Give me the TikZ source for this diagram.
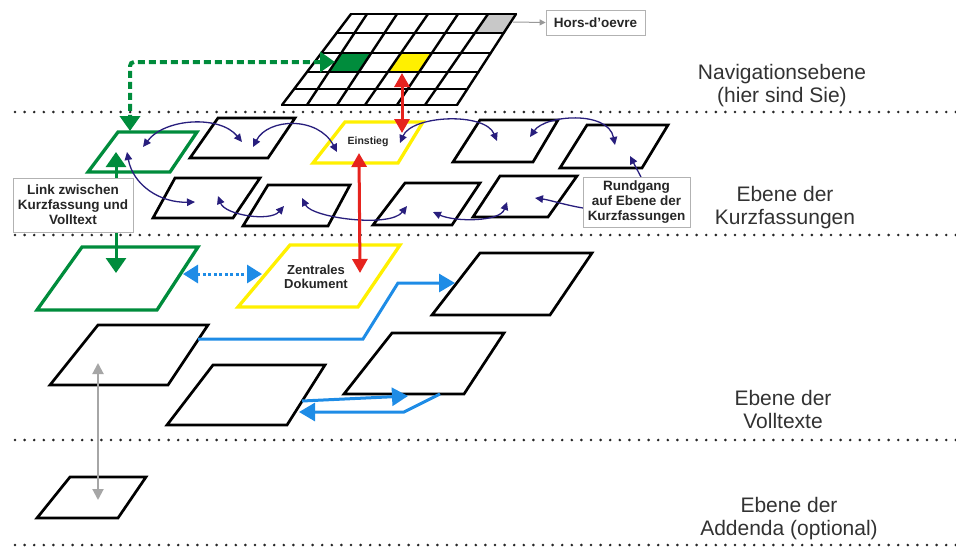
\documentclass[tikz,border=0pt]{standalone}
\usepackage{fontspec}
\setmainfont{Liberation Sans}
\usetikzlibrary{arrows.meta}

\definecolor{lgreen}{RGB}{0,140,60}
\definecolor{lyellow}{RGB}{255,240,0}
\definecolor{lred}{RGB}{230,35,30}
\definecolor{lblue}{RGB}{30,140,230}
\definecolor{lnavy}{RGB}{40,30,125}
\definecolor{lgraycell}{RGB}{200,200,200}
\definecolor{ltext}{RGB}{50,50,50}

\begin{document}
\begin{tikzpicture}[x=1pt,y=-1pt,
  sheet/.style={draw=black,line width=2.7pt,fill=white},
  gsheet/.style={draw=lgreen,line width=3.3pt,fill=white},
  ysheet/.style={draw=lyellow,line width=3.3pt,fill=white},
  gridline/.style={draw=black,line width=2.4pt,line cap=round},
  sep/.style={draw=black!85,line width=2.9pt,dash pattern=on 0pt off 9.6pt,line cap=round},
  layerlabel/.style={font=\fontsize{21}{23}\selectfont,text=ltext,align=center,inner sep=0pt},
  note/.style={draw=black!30,line width=0.8pt,fill=white,font=\bfseries\fontsize{13.5}{15}\selectfont,text=black!85,align=center,inner sep=0pt},
  sheetlabel/.style={text=black!85,align=center,inner sep=0pt},
  greenlink/.style={draw=lgreen,line width=3pt,arrows={Triangle[length=15pt,width=20pt]-Triangle[length=15pt,width=20pt]}},
  greendash/.style={greenlink,line width=4pt,dash pattern=on 7pt off 4pt,rounded corners=4pt},
  redlink/.style={draw=lred,line width=3pt,arrows={Triangle[length=14pt,width=15pt]-Triangle[length=14pt,width=15pt]}},
  bluelink/.style={draw=lblue,line width=3pt,arrows={-Triangle[length=16pt,width=18pt]}},
  bluedots/.style={draw=lblue,line width=3pt,dash pattern=on 3pt off 2.5pt,arrows={Triangle[length=15pt,width=18pt]-Triangle[length=15pt,width=18pt]}},
  graylink/.style={draw=black!35,line width=2pt,arrows={Triangle[length=11pt,width=11pt]-Triangle[length=11pt,width=11pt]}},
  tour/.style={draw=lnavy,line width=1.3pt,arrows={Triangle[length=8pt,width=7.5pt]-Triangle[length=8pt,width=7.5pt]}},
  tourone/.style={draw=lnavy,line width=1.3pt,arrows={-Triangle[length=8pt,width=7.5pt]}},
  pointer/.style={draw=black!40,line width=1pt,arrows={-Triangle[length=6pt,width=6pt]}},
]
\useasboundingbox (0,0) rectangle (956,547);

% layer separators
\foreach \yy in {112,235,440,545}
  \draw[sep] (15,\yy) -- (956,\yy);

% navigation grid
\fill[white] (351,14) -- (516,14) -- (457,105) -- (282,105) -- cycle;
\fill[lgreen] (341.3,53) -- (371.3,53) -- (358.8,72) -- (328.8,72) -- cycle;
\fill[lyellow] (401,53) -- (431.9,53) -- (419.1,72) -- (387.8,72) -- cycle;
\fill[lgraycell] (488,14) -- (516,14) -- (503.7,33) -- (474.8,33) -- cycle;
\draw[gridline] (351,14) -- (516,14) (336.6,33) -- (503.7,33) (321.4,53) -- (490.7,53)
  (307,72) -- (478.4,72) (294.1,89) -- (467.4,89) (282,105) -- (457,105);
\draw[gridline] (351,14) -- (282,105) (367,14) -- (307,105) (397,14) -- (337,105)
  (428,14) -- (365,105) (458,14) -- (397,105) (488,14) -- (425,105) (516,14) -- (457,105);

% sheets: Kurzfassungen
\draw[gsheet] (118,132) -- (197,132) -- (170,172) -- (88,172) -- cycle;
\draw[sheet] (218,118) -- (295,118) -- (268,158) -- (190,158) -- cycle;
\draw[ysheet] (345,122) -- (423,122) -- (398,163) -- (313,163) -- cycle;
\draw[sheet] (480,120) -- (558,120) -- (533,162) -- (453,162) -- cycle;
\draw[sheet] (587,125) -- (668,125) -- (642,168) -- (560,168) -- cycle;
\draw[sheet] (175,178) -- (260,178) -- (233,218) -- (153,218) -- cycle;
\draw[sheet] (268,185) -- (350,185) -- (328,226) -- (243,226) -- cycle;
\draw[sheet] (405,183) -- (480,183) -- (452,225) -- (373,225) -- cycle;
\draw[sheet] (500,176) -- (577,176) -- (548,217) -- (473,217) -- cycle;

% sheets: Volltexte
\draw[gsheet] (82,247) -- (198,247) -- (157,310) -- (37,310) -- cycle;
\draw[ysheet] (290,245) -- (400,245) -- (358,307) -- (238,307) -- cycle;
\draw[sheet] (480,253) -- (592,253) -- (550,315) -- (432,315) -- cycle;
\draw[sheet] (98,325) -- (208,325) -- (168,385) -- (50,385) -- cycle;
\draw[sheet] (213,365) -- (325,365) -- (287,425) -- (167,425) -- cycle;
\draw[sheet] (392,333) -- (504,333) -- (464,394) -- (344,394) -- cycle;

% sheet: Addenda
\draw[sheet] (70,477) -- (146,477) -- (118,518) -- (37,518) -- cycle;

% connector end points
\coordinate (gcell) at (335,62);
\coordinate (ycell) at (402,73);
\coordinate (grid) at (513,22);
\coordinate (aTop) at (130,131);
\coordinate (aIn) at (116,152);
\coordinate (aL) at (143,147);
\coordinate (aD) at (127,152);
\coordinate (bL) at (242,142);
\coordinate (bR) at (253,147);
\coordinate (eL) at (337,152);
\coordinate (eTop) at (402,133);
\coordinate (eR) at (400,143);
\coordinate (eBot) at (359,153);
\coordinate (b2L) at (497,141);
\coordinate (b2R) at (530,137);
\coordinate (b3) at (615,145);
\coordinate (b3low) at (630,156);
\coordinate (c1L) at (195,202);
\coordinate (c1R) at (218,196);
\coordinate (c2L) at (284,206);
\coordinate (c2R) at (302,198);
\coordinate (c3L) at (407,206);
\coordinate (c3R) at (433,212);
\coordinate (c4L) at (507,202);
\coordinate (c4R) at (535,198);
\coordinate (rgTop) at (641,177);
\coordinate (rgLeft) at (583,208);
\coordinate (d1In) at (116,273);
\coordinate (d1R) at (183,274);
\coordinate (d2L) at (262,274);
\coordinate (d2Top) at (360,273);
\coordinate (d3L) at (455,283);
\coordinate (d4R) at (198,339);
\coordinate (d4In) at (98,363);
\coordinate (d5Ra) at (302,401);
\coordinate (d5Rb) at (299,412);
\coordinate (d6a) at (408,396);
\coordinate (d6b) at (440,394);
\coordinate (e1In) at (98,500);

% tour through the Kurzfassungen
\draw[tour] (aL) .. controls (165,118) and (220,115) .. (bL);
\draw[tour] (bR) .. controls (268,118) and (318,116) .. (eL);
\draw[tour] (eR) .. controls (412,115) and (485,112) .. (b2L);
\draw[tour] (b2R) .. controls (545,115) and (608,110) .. (b3);
\draw[tour] (c3R) .. controls (455,222) and (500,222) .. (c4L);
\draw[tour] (c2R) .. controls (312,218) and (390,228) .. (c3L);
\draw[tour] (c1R) .. controls (225,215) and (270,222) .. (c2L);
\draw[tour] (aD) .. controls (133,185) and (160,203) .. (c1L);
\draw[tourone] (rgTop) -- (b3low);
\draw[tourone] (rgLeft) .. controls (565,205) and (550,200) .. (c4R);

% links between the levels
\draw[greendash] (gcell) -| (aTop);
\draw[greenlink] (aIn) -- (d1In);
\draw[redlink] (ycell) -- (eTop);
\draw[redlink] (eBot) -- (d2Top);
\draw[bluedots] (d1R) -- (d2L);
\draw[bluelink] (d4R) -- (363,339) -- (398,283) -- (d3L);
\draw[bluelink] (d5Ra) -- (d6a);
\draw[bluelink] (d6b) -- (404,412) -- (d5Rb);
\draw[graylink] (d4In) -- (e1In);

% notes
\node[note,minimum width=99pt,minimum height=25pt] (hors) at (595.5,22.5) {Hors-d'oevre};
\draw[pointer] (grid) -- (hors.west);
\node[note,minimum width=120pt,minimum height=54pt] (link) at (73,205)
  {Link zwischen\\Kurzfassung und\\Volltext};
\node[note,minimum width=107pt,minimum height=50pt] (rg) at (636.5,202)
  {Rundgang\\auf Ebene der\\Kurzfassungen};

% sheet titles
\node[sheetlabel,font=\bfseries\fontsize{10.5}{12}\selectfont] (einstieg) at (368,142) {Einstieg};
\node[sheetlabel,font=\bfseries\fontsize{13}{14}\selectfont] (zentral) at (316,277) {Zentrales\\Dokument};

% level names
\node[layerlabel] (nav) at (782,86) {Navigationsebene\\(hier sind Sie)};
\node[layerlabel] (kurz) at (785,208) {Ebene der\\Kurzfassungen};
\node[layerlabel] (voll) at (783,409) {Ebene der\\Volltexte};
\node[layerlabel] (add) at (789,519) {Ebene der\\Addenda (optional)};
\end{tikzpicture}
\end{document}
